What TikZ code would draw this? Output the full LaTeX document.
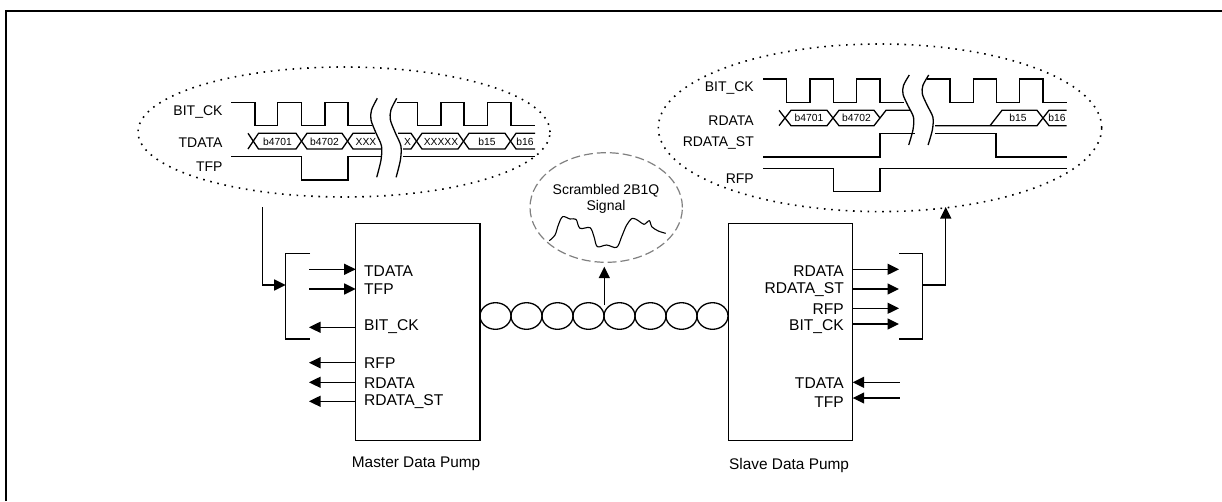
\documentclass[tikz,border=0pt]{standalone}
\usepackage{fontspec}
\setmainfont{Liberation Sans}
\usetikzlibrary{arrows.meta,shapes.geometric}
\tikzset{
  wave/.style={line width=1.3pt,line join=miter},
  arr/.style={line width=1.3pt,-{Triangle[length=11.5pt,width=11pt]}},
  pump/.style={draw,line width=1.3pt,rectangle,outer sep=0pt,inner sep=0pt,minimum width=124.4pt,minimum height=217.4pt,anchor=north west},
  zoomring/.style={draw,ellipse,line width=1.6pt,inner sep=0pt,outer sep=0pt,dash pattern=on 1.6pt off 5.7pt},
  scope ring/.style={draw=black!50,ellipse,line width=1.2pt,inner sep=0pt,outer sep=0pt,dash pattern=on 9pt off 4pt},
  ringcoil/.style={draw,ellipse,line width=1.3pt,inner sep=0pt,outer sep=0pt,minimum width=31pt,minimum height=26.6pt},
  wl/.style={inner sep=0pt,anchor=east,font=\fontsize{14}{16}\selectfont},
  pl/.style={inner sep=0pt,anchor=west,font=\fontsize{15.6}{17}\selectfont},
  pr/.style={inner sep=0pt,anchor=east,font=\fontsize{15.6}{17}\selectfont},
  cell/.style={inner sep=0pt,font=\fontsize{10.3}{12}\selectfont},
}
\newcommand{\breakcurve}[2]{\draw[wave,shift={#1},yscale=#2] plot[smooth] coordinates {(0,0) (-5.8,11.7) (-6.3,21.7) (-1.3,34.7) (4.2,47.7) (3.7,61.7) (-0.6,79)};}
\begin{document}
\begin{tikzpicture}[x=1pt,y=-1pt]
\useasboundingbox (0,0) rectangle (1222,501);
% frame
\draw[line width=2pt] (6,501) -- (6,11) -- (1222,11);

% ---------- left timing ellipse
\node[zoomring,minimum width=412pt,minimum height=130pt] (leftzoom) at (344,132) {};
\draw[wave] (231,102.3) -- (255,102.3) -- (255,125.7) -- (277.7,125.7) -- (277.7,102.3) -- (301.7,102.3) -- (301.7,125.7) -- (325,125.7) -- (325,102.3) -- (348,102.3) -- (348,125.7) -- (371.5,125.7);
\draw[wave] (396.7,102.3) -- (417.7,102.3) -- (417.7,125.7) -- (441,125.7) -- (441,102.3) -- (464,102.3) -- (464,125.7) -- (487.7,125.7) -- (487.7,102.3) -- (511,102.3) -- (511,125.7) -- (535,125.7);
\draw[wave] (248,149) -- (258.5,133.3) -- (296,133.3) -- (307,149) -- (342,149) -- (353,133.3) -- (375,133.3);
\draw[wave] (248,133.3) -- (258.5,149) -- (296,149) -- (307,133.3) -- (342,133.3) -- (353,149) -- (381,149);
\draw[wave] (398,133.3) -- (411,133.3) -- (422,149) -- (458,149) -- (469,133.3) -- (505,133.3) -- (516,149) -- (535,149);
\draw[wave] (403,149) -- (411,149) -- (422,133.3) -- (458,133.3) -- (469,149) -- (505,149) -- (516,133.3) -- (535,133.3);
\draw[wave] (231,156.7) -- (301.7,156.7) -- (301.7,180) -- (348,180) -- (348,156.7) -- (381,156.7);
\draw[wave] (403,156.7) -- (535,156.7);
\breakcurve{(377.3,98.3)}{1}
\breakcurve{(396.7,98.3)}{1}
\node[wl] (lw1) at (222.7,112) {BIT\_CK};
\node[wl] (lw2) at (222.7,143) {TDATA};
\node[wl] (lw3) at (222.7,166.7) {TFP};
\node[cell] (lc1) at (277.5,141.5) {b4701};
\node[cell] (lc2) at (324.5,141.5) {b4702};
\node[cell] (lc3) at (366,141.5) {XXX};
\node[cell] (lc4) at (407.5,141.5) {X};
\node[cell] (lc5) at (441,141.5) {XXXXX};
\node[cell] (lc6) at (487,141.5) {b15};
\node[cell] (lc7) at (525,141.5) {b16};

% ---------- right timing ellipse
\node[zoomring,minimum width=443.4pt,minimum height=167.6pt] (rightzoom) at (880,127.8) {};
\draw[wave] (763.3,79) -- (786.7,79) -- (786.7,102.3) -- (810,102.3) -- (810,79) -- (833.3,79) -- (833.3,102.3) -- (856.7,102.3) -- (856.7,79) -- (880,79) -- (880,102.3) -- (903.5,102.3);
\draw[wave] (926.7,79) -- (950,79) -- (950,102.3) -- (973.3,102.3) -- (973.3,79) -- (996.7,79) -- (996.7,102.3) -- (1019.7,102.3) -- (1019.7,79) -- (1043,79) -- (1043,102.3) -- (1066.7,102.3);
\draw[wave] (779,125.7) -- (791,110.3) -- (827,110.3) -- (839,125.7) -- (874,125.7) -- (886,110.3) -- (910,110.3);
\draw[wave] (779,110.3) -- (791,125.7) -- (827,125.7) -- (839,110.3) -- (874,110.3) -- (880,118);
\draw[wave] (935,125.7) -- (1037,125.7) -- (1049,110.3) -- (1066.7,110.3);
\draw[wave] (990,125.7) -- (1002,110.3) -- (1037,110.3) -- (1049,125.7) -- (1066.7,125.7);
\draw[wave] (763.3,157) -- (880,157) -- (880,133.7) -- (915,133.7);
\draw[wave] (935,133.7) -- (996,133.7) -- (996,157) -- (1066.7,157);
\draw[wave] (763.3,168.7) -- (833.3,168.7) -- (833.3,191.7) -- (880,191.7) -- (880,168.7) -- (1066.7,168.7);
\breakcurve{(909.3,75)}{.886}
\breakcurve{(928.7,75)}{.886}
\node[wl] (rw1) at (754,88.3) {BIT\_CK};
\node[wl] (rw2) at (754,120.7) {RDATA};
\node[wl] (rw3) at (754,143.3) {RDATA\_ST};
\node[wl] (rw4) at (754,178.3) {RFP};
\node[cell] (rc1) at (809,118) {b4701};
\node[cell] (rc2) at (856.5,118) {b4702};
\node[cell] (rc3) at (1018,118) {b15};
\node[cell] (rc4) at (1057,118) {b16};

% ---------- pumps
\node[pump] (master) at (355.7,223.3) {};
\node[pump] (slave) at (728.3,223.3) {};
\node[pl] (m1) at (364,270.7) {TDATA};
\node[pl] (m2) at (364,289.3) {TFP};
\node[pl] (m3) at (364,327) {BIT\_CK};
\node[pl] (m4) at (364,363.3) {RFP};
\node[pl] (m5) at (364,383) {RDATA};
\node[pl] (m6) at (364,402) {RDATA\_ST};
\node[pr] (s1) at (844,271) {RDATA};
\node[pr] (s2) at (844,289.7) {RDATA\_ST};
\node[pr] (s3) at (844,308.7) {RFP};
\node[pr] (s4) at (844,327) {BIT\_CK};
\node[pr] (s5) at (844,383) {TDATA};
\node[pr] (s6) at (844,402) {TFP};
\node[inner sep=0pt,anchor=west,font=\fontsize{15.4}{17}\selectfont] (mastername) at (351.7,464) {Master Data Pump};
\node[inner sep=0pt,anchor=west,font=\fontsize{15.4}{17}\selectfont] (slavename) at (729,466) {Slave Data Pump};

% ---------- master arrows
\foreach \nm/\yy in {a/269.3,b/289} {
  \coordinate (m\nm) at (309,\yy);
  \draw[arr] (m\nm) -- (m\nm -| master.west);
}
\foreach \nm/\yy in {c/327.3,d/362.7,e/382.3,f/401.3} {
  \coordinate (m\nm) at (309,\yy);
  \draw[arr] (m\nm -| master.west) -- (m\nm);
}
% master bracket
\coordinate (mbt) at (310,253.7);
\coordinate (mbb) at (310,339);
\coordinate (mbj) at (285.7,285);
\coordinate (minput) at (262.3,207.3);
\draw[line width=1.3pt] (mbt) -- (285.7,253.7) -- (285.7,339) -- (mbb);
\draw[arr] (minput) |- (mbj);

% ---------- slave arrows
\foreach \nm/\yy in {a/269.3,b/289,c/308.3,d/324} {
  \coordinate (s\nm) at (899,\yy);
  \draw[arr] (s\nm -| slave.east) -- (s\nm);
}
\foreach \nm/\yy in {e/382.3,f/398} {
  \coordinate (s\nm) at (899.7,\yy);
  \draw[arr] (s\nm) -- (s\nm -| slave.east);
}
% slave bracket
\coordinate (sbt) at (899,253.7);
\coordinate (sbb) at (899,339);
\coordinate (sbj) at (922.7,285);
\coordinate (soutput) at (945.7,207);
\draw[line width=1.3pt] (sbt) -- (922.7,253.7) -- (922.7,339) -- (sbb);
\draw[arr] (sbj) -| (soutput);

% ---------- twisted line
\foreach \i in {0,...,7} {
  \node[ringcoil] (coil\i) at ({495.5+31*\i},316) {};
}
\coordinate (tap) at (604.3,305);
\coordinate (scopetip) at (604.3,266.7);
\draw[arr] (tap) -- (scopetip);

% ---------- scrambled signal
\node[scope ring,minimum width=152.4pt,minimum height=109.6pt] (sigring) at (606.2,207.5) {};
\node[inner sep=0pt,font=\fontsize{14}{16}\selectfont] (sig1) at (606,190.7) {Scrambled 2B1Q};
\node[inner sep=0pt,font=\fontsize{14}{16}\selectfont] (sig2) at (606,206.7) {Signal};
\begin{scope}[shift={(470,130)},xscale=1/3,yscale=1/3]
\draw[line width=1.1pt] plot[smooth,tension=.55] coordinates {(238,332) (255,315) (265,285) (278,260) (300,267) (318,268) (330,295) (360,293) (372,320) (382,350) (410,345) (440,352) (455,320) (470,285) (487,265) (505,272) (522,283) (538,272) (545,290) (565,303) (587,310)};
\end{scope}
\end{tikzpicture}
\end{document}
